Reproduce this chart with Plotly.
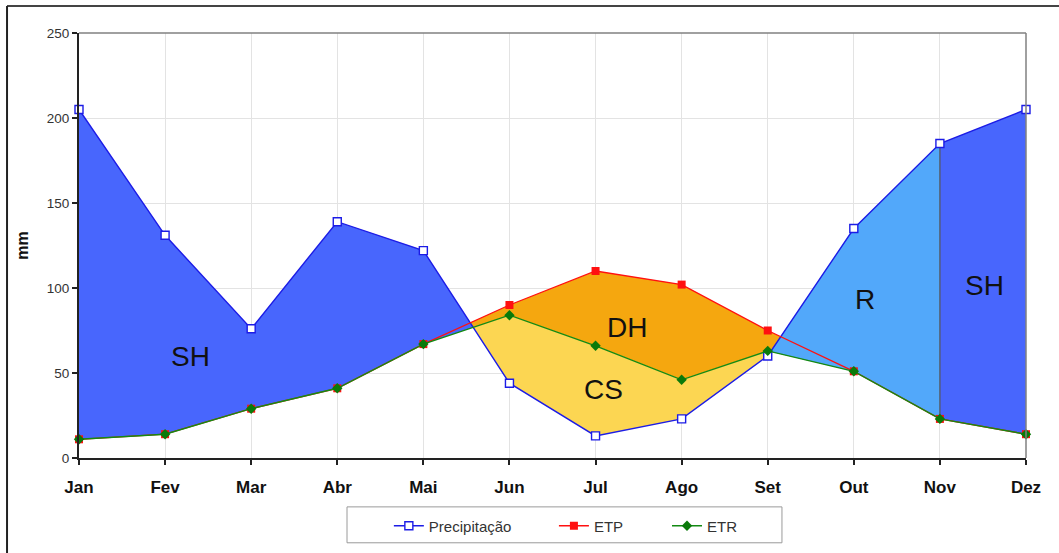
import numpy as np
import plotly.graph_objects as go

# ---- data ----
months = ["Jan", "Fev", "Mar", "Abr", "Mai", "Jun", "Jul", "Ago", "Set", "Out", "Nov", "Dez"]
precip = [205, 131, 76, 139, 122, 44, 13, 23, 60, 135, 185, 205]
etp = [11, 14, 29, 41, 67, 90, 110, 102, 75, 51, 23, 14]
etr = [11, 14, 29, 41, 67, 84, 66, 46, 63, 51, 23, 14]
recharge_from = "Set"
recharge_to = "Nov"
zone_labels = ["SH", "DH", "CS", "R", "SH"]
zone_label_x = [1.29, 6.36, 6.09, 9.13, 10.52]
zone_label_y = [60, 77, 40.5, 93, 101.5]

# ---- derived geometry ----
x = np.arange(len(months), dtype=float)
P = np.array(precip, dtype=float)
E = np.array(etr, dtype=float)
T = np.array(etp, dtype=float)

# dense points including P/ETR crossings
dx, dp, de = [], [], []
for i in range(len(x)):
    dx.append(x[i]); dp.append(P[i]); de.append(E[i])
    if i < len(x) - 1:
        d0, d1 = P[i] - E[i], P[i + 1] - E[i + 1]
        if d0 * d1 < 0:
            t = d0 / (d0 - d1)
            xc = x[i] + t
            ec = E[i] + t * (E[i + 1] - E[i])
            dx.append(xc); dp.append(ec); de.append(ec)
dx = np.array(dx); dp = np.array(dp); de = np.array(de)
upper = np.maximum(dp, de)
lower = np.minimum(dp, de)


def band(xs, top, bot, lo, hi):
    m = (xs >= lo - 1e-9) & (xs <= hi + 1e-9)
    xx = xs[m]
    return list(xx) + list(xx[::-1]), list(top[m]) + list(bot[m][::-1])


fig = go.Figure()

# DH: ETP over ETR
bx, by = band(x, T, E, 0, 11)
fig.add_trace(go.Scatter(x=bx, y=by, fill="toself", fillcolor="#f5a70f",
                         line=dict(width=0), mode="lines", hoverinfo="skip", showlegend=False))
# CS: ETR over P (where P < ETR)
bx, by = band(dx, de, lower, 0, 11)
fig.add_trace(go.Scatter(x=bx, y=by, fill="toself", fillcolor="#fcd652",
                         line=dict(width=0), mode="lines", hoverinfo="skip", showlegend=False))
# SH: P over ETR
bx, by = band(dx, upper, de, 0, 11)
fig.add_trace(go.Scatter(x=bx, y=by, fill="toself", fillcolor="#4866fd",
                         line=dict(width=0), mode="lines", hoverinfo="skip", showlegend=False))
# R: P over ETR in recharge period
r0, r1 = months.index(recharge_from), months.index(recharge_to)
bx, by = band(dx, upper, de, r0, r1)
fig.add_trace(go.Scatter(x=bx, y=by, fill="toself", fillcolor="#52a8fa",
                         line=dict(width=0), mode="lines", hoverinfo="skip", showlegend=False))
# separator at end of recharge
fig.add_trace(go.Scatter(x=[x[r1], x[r1]], y=[E[r1], P[r1]], mode="lines",
                         line=dict(color="#555555", width=1.2), hoverinfo="skip", showlegend=False))

# lines
fig.add_trace(go.Scatter(x=x, y=P, name="Precipitação", mode="lines+markers", cliponaxis=False,
                         legend="legend",
                         line=dict(color="#1c1ce6", width=1.4),
                         marker=dict(symbol="square", size=8, color="white",
                                     line=dict(color="#1c1ce6", width=1.4))))
fig.add_trace(go.Scatter(x=x, y=T, name="ETP", mode="lines+markers", cliponaxis=False,
                         legend="legend2",
                         line=dict(color="#ff1010", width=1.3),
                         marker=dict(symbol="square", size=8, color="#ff1010")))
fig.add_trace(go.Scatter(x=x, y=E, name="ETR", mode="lines+markers", cliponaxis=False,
                         legend="legend3",
                         line=dict(color="#138a13", width=1.4),
                         marker=dict(symbol="diamond", size=8, color="#0a7a0a")))

for lab, lx, ly in zip(zone_labels, zone_label_x, zone_label_y):
    fig.add_annotation(x=lx, y=ly, text=lab, showarrow=False,
                       font=dict(family="Liberation Sans, Arial", size=28, color="#111111"))

# frames
fig.add_shape(type="line", xref="paper", yref="paper", x0=0, x1=1, y0=1, y1=1,
              line=dict(color="#808080", width=1.5))
fig.add_shape(type="line", xref="paper", yref="paper", x0=1, x1=1, y0=0, y1=1,
              line=dict(color="#808080", width=1.5))
fig.add_shape(type="line", xref="paper", yref="paper", x0=-0.076, x1=1.04, y0=1.0634, y1=1.0634,
              line=dict(color="#444444", width=2))
fig.add_shape(type="line", xref="paper", yref="paper", x0=-0.076, x1=-0.076, y0=-0.23, y1=1.0634,
              line=dict(color="#222222", width=2))
# legend box
fig.add_shape(type="rect", xref="paper", yref="paper", x0=0.283, x1=0.7423, y0=-0.1995, y1=-0.115,
              line=dict(color="#9a9a9a", width=1), fillcolor="rgba(0,0,0,0)")

leg_common = dict(orientation="h", xanchor="left", y=-0.1573, yanchor="middle",
                  borderwidth=0, bgcolor="rgba(0,0,0,0)",
                  font=dict(size=15, color="#333333"), itemwidth=30)
fig.update_layout(
    width=1059, height=553,
    margin=dict(l=79, r=33, t=33, b=94),
    paper_bgcolor="white", plot_bgcolor="white",
    font=dict(family="Liberation Sans, Arial", color="#222222"),
    showlegend=True,
    legend=dict(x=0.3272, **leg_common),
    legend2=dict(x=0.5015, **leg_common),
    legend3=dict(x=0.6209, **leg_common),
)
fig.update_xaxes(range=[0, 11], tickmode="array", tickvals=list(x), ticktext=months,
                 showgrid=True, gridcolor="#e3e3e3", gridwidth=1,
                 showline=True, linecolor="#222222", linewidth=2,
                 ticks="outside", ticklen=5, tickcolor="#222222", tickwidth=1.5,
                 tickfont=dict(size=17, color="#111111", weight="bold"),
                 ticklabelstandoff=8, zeroline=False)
fig.update_yaxes(range=[0, 250], tickvals=[0, 50, 100, 150, 200, 250],
                 showgrid=True, gridcolor="#e3e3e3", gridwidth=1,
                 showline=True, linecolor="#222222", linewidth=2,
                 ticks="outside", ticklen=5, tickcolor="#222222", tickwidth=1.5,
                 tickfont=dict(size=13.5, color="#333333"),
                 title=dict(text="mm", font=dict(size=16, color="#111111", weight="bold"), standoff=14),
                 zeroline=False)

fig.write_html("out.html", config={"displayModeBar": False},
               post_script="document.body.style.margin='0';document.body.style.overflow='hidden';")
